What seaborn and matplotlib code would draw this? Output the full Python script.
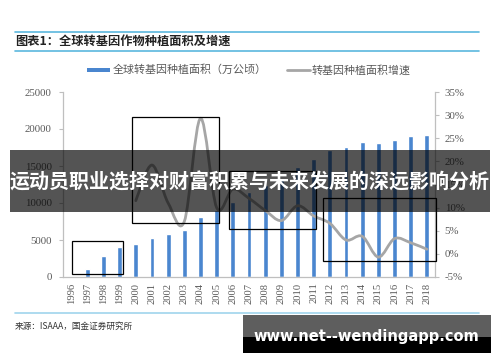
import matplotlib
matplotlib.use("Agg")
import matplotlib.pyplot as plt
import seaborn as sns
import pandas as pd
import numpy as np
from matplotlib.patches import Rectangle, PathPatch
from matplotlib.path import Path
from matplotlib.lines import Line2D

# ---------------- data ----------------
years = [str(y) for y in range(1996, 2019)]
area = [170, 1100, 2780, 3990, 4420, 5260, 5870, 6300, 8100, 9000, 10200, 11430,
        12500, 13400, 14800, 16000, 17100, 17550, 18200, 18050, 18550, 19050, 19230]
growth_years = [str(y) for y in range(2000, 2019)]
growth = [11.5, 19.2, 11.0, 7.0, 29.3, 10.0, 14.0, 12.0, 9.4, 7.2, 10.4, 8.2,
          6.6, 3.0, 3.8, -0.7, 3.3, 2.4, 1.0]
left_ticks = [0, 5000, 10000, 15000, 20000, 25000]
right_ticks = [-5, 0, 5, 10, 15, 20, 25, 30, 35]

title = "图表1：全球转基因作物种植面积及增速"
bar_label = "全球转基因种植面积（万公顷）"
line_label = "转基因种植面积增速"
source = "来源：ISAAA，国金证券研究所"
overlay = "运动员职业选择对财富积累与未来发展的深远影响分析"
watermark = "www.net--wendingapp.com"

sns.set_theme(style="white")
plt.rcParams['font.family'] = ['Noto Sans CJK SC', 'DejaVu Sans']

W, H = 500, 362
fig = plt.figure(figsize=(W / 100, H / 100), dpi=100)

def fx(px):
    return px / W

def fy(py):
    return 1 - py / H

BLUE = "#4a86cf"
GRAY_LINE = "#a6a6a6"
AXIS = "#bfbfbf"
TXT = "#595959"
SERIF = "Liberation Serif"

ax = fig.add_axes([fx(63), fy(277), fx(435) - fx(63), fy(92) - fy(277)])
df = pd.DataFrame({"year": years, "area": area})
sns.barplot(data=df, x="year", y="area", color=BLUE, saturation=1, width=0.3, ax=ax)
ax.set_xlim(-0.5, len(years) - 0.5)
ax.set_ylim(0, 25000)
ax.set_yticks(left_ticks)
ax.set_yticklabels([str(v) for v in left_ticks])
ax.set_xticks(range(len(years)))
ax.set_xticklabels(years, rotation=90)
ax.set_xticks(np.arange(-0.5, len(years), 1), minor=True)
ax.tick_params(axis='x', which='major', length=0, pad=4)
ax.tick_params(axis='x', which='minor', length=4, color=AXIS, width=0.8, direction='out')
ax.tick_params(axis='y', length=3, color=AXIS, width=0.8, direction='out', pad=5, left=True)
for lbl in ax.get_yticklabels():
    lbl.set_fontfamily(SERIF); lbl.set_fontsize(7.8); lbl.set_color(TXT)
for lbl in ax.get_xticklabels():
    lbl.set_fontfamily(SERIF); lbl.set_fontsize(7.6); lbl.set_color(TXT)
ax.set_xlabel("")
ax.set_ylabel("")
for s in ['top', 'right']:
    ax.spines[s].set_visible(False)
for s in ['left', 'bottom']:
    ax.spines[s].set_color(AXIS)
    ax.spines[s].set_linewidth(0.9)

ax2 = ax.twinx()
ax2.set_ylim(-5, 35)
ax2.set_yticks(right_ticks)
ax2.set_yticklabels([f"{v}%" for v in right_ticks])
for lbl in ax2.get_yticklabels():
    lbl.set_fontfamily(SERIF); lbl.set_fontsize(7.8); lbl.set_color(TXT)
ax2.tick_params(axis='y', length=3, color=AXIS, width=0.8, direction='out', pad=4, right=True)
for s in ['top', 'left', 'bottom']:
    ax2.spines[s].set_visible(False)
ax2.spines['right'].set_color(AXIS)
ax2.spines['right'].set_linewidth(0.9)
ax2.grid(False)
ax.grid(False)

# smoothed (Excel-style) growth line via Catmull-Rom Bezier segments
gx = np.array([years.index(y) for y in growth_years], dtype=float)
gy = np.array(growth, dtype=float)
verts = [(gx[0], gy[0])]
codes = [Path.MOVETO]
n = len(gx)
for i in range(n - 1):
    p0 = np.array([gx[max(i - 1, 0)], gy[max(i - 1, 0)]])
    p1 = np.array([gx[i], gy[i]])
    p2 = np.array([gx[i + 1], gy[i + 1]])
    p3 = np.array([gx[min(i + 2, n - 1)], gy[min(i + 2, n - 1)]])
    c1 = p1 + (p2 - p0) / 6
    c2 = p2 - (p3 - p1) / 6
    verts += [tuple(c1), tuple(c2), tuple(p2)]
    codes += [Path.CURVE4] * 3
ax2.add_patch(PathPatch(Path(verts, codes), fill=False, ec=GRAY_LINE, lw=2.0, capstyle='round'))

# ---------------- header / legend / footer ----------------
for yy, col in [(31.7, "#5bb8de"), (51, "#5bb8de"), (313.3, "#9fd4ec")]:
    fig.add_artist(Line2D([fx(15), fx(479)], [fy(yy), fy(yy)], color=col, lw=1.2))
fig.text(fx(15), fy(41), title, fontsize=8.8, fontweight='bold', style='italic',
         color="#222222", va='center', ha='left')

fig.add_artist(Rectangle((fx(87), fy(71.5)), fx(110) - fx(87), fy(67.5) - fy(71.5),
                         transform=fig.transFigure, color=BLUE, lw=0))
fig.text(fx(113), fy(70), bar_label, fontsize=7.9, color=TXT, va='center', ha='left')
fig.add_artist(Line2D([fx(287), fx(310)], [fy(70), fy(70)], color=GRAY_LINE, lw=2))
fig.text(fx(312), fy(70), line_label, fontsize=7.9, color=TXT, va='center', ha='left')
fig.text(fx(15), fy(326), source, fontsize=6.2, color="#333333", va='center', ha='left')

# ---------------- annotation boxes ----------------
for (x0, y0, x1, y1) in [(72, 241, 123, 274), (132, 117, 219, 223),
                         (229, 171, 316, 229), (323, 198, 436, 261)]:
    fig.add_artist(Rectangle((fx(x0), fy(y1)), fx(x1) - fx(x0), fy(y0) - fy(y1),
                             transform=fig.transFigure, fill=False, ec='black', lw=0.9, zorder=3))

# ---------------- overlay band ----------------
fig.add_artist(Rectangle((fx(10), fy(212)), fx(490) - fx(10), fy(150) - fy(212),
                         transform=fig.transFigure, color='black', alpha=0.67, lw=0, zorder=4))
fig.text(fx(250), fy(182), overlay, fontsize=14.4, fontweight='bold', color='white',
         ha='center', va='center', zorder=5)

# ---------------- watermark ----------------
fig.add_artist(Rectangle((fx(243), fy(337)), fx(491) - fx(243), fy(315) - fy(337),
                         transform=fig.transFigure, color='#5e5e5e', lw=0, zorder=4))
fig.add_artist(Rectangle((fx(243), fy(353)), fx(491) - fx(243), fy(337) - fy(353),
                         transform=fig.transFigure, color='black', lw=0, zorder=4))
fig.text(fx(366), fy(336), watermark, fontsize=10.5, fontweight='bold', color='white',
         family='DejaVu Sans', ha='center', va='center', zorder=5)

fig.savefig("out.png", dpi=100)
